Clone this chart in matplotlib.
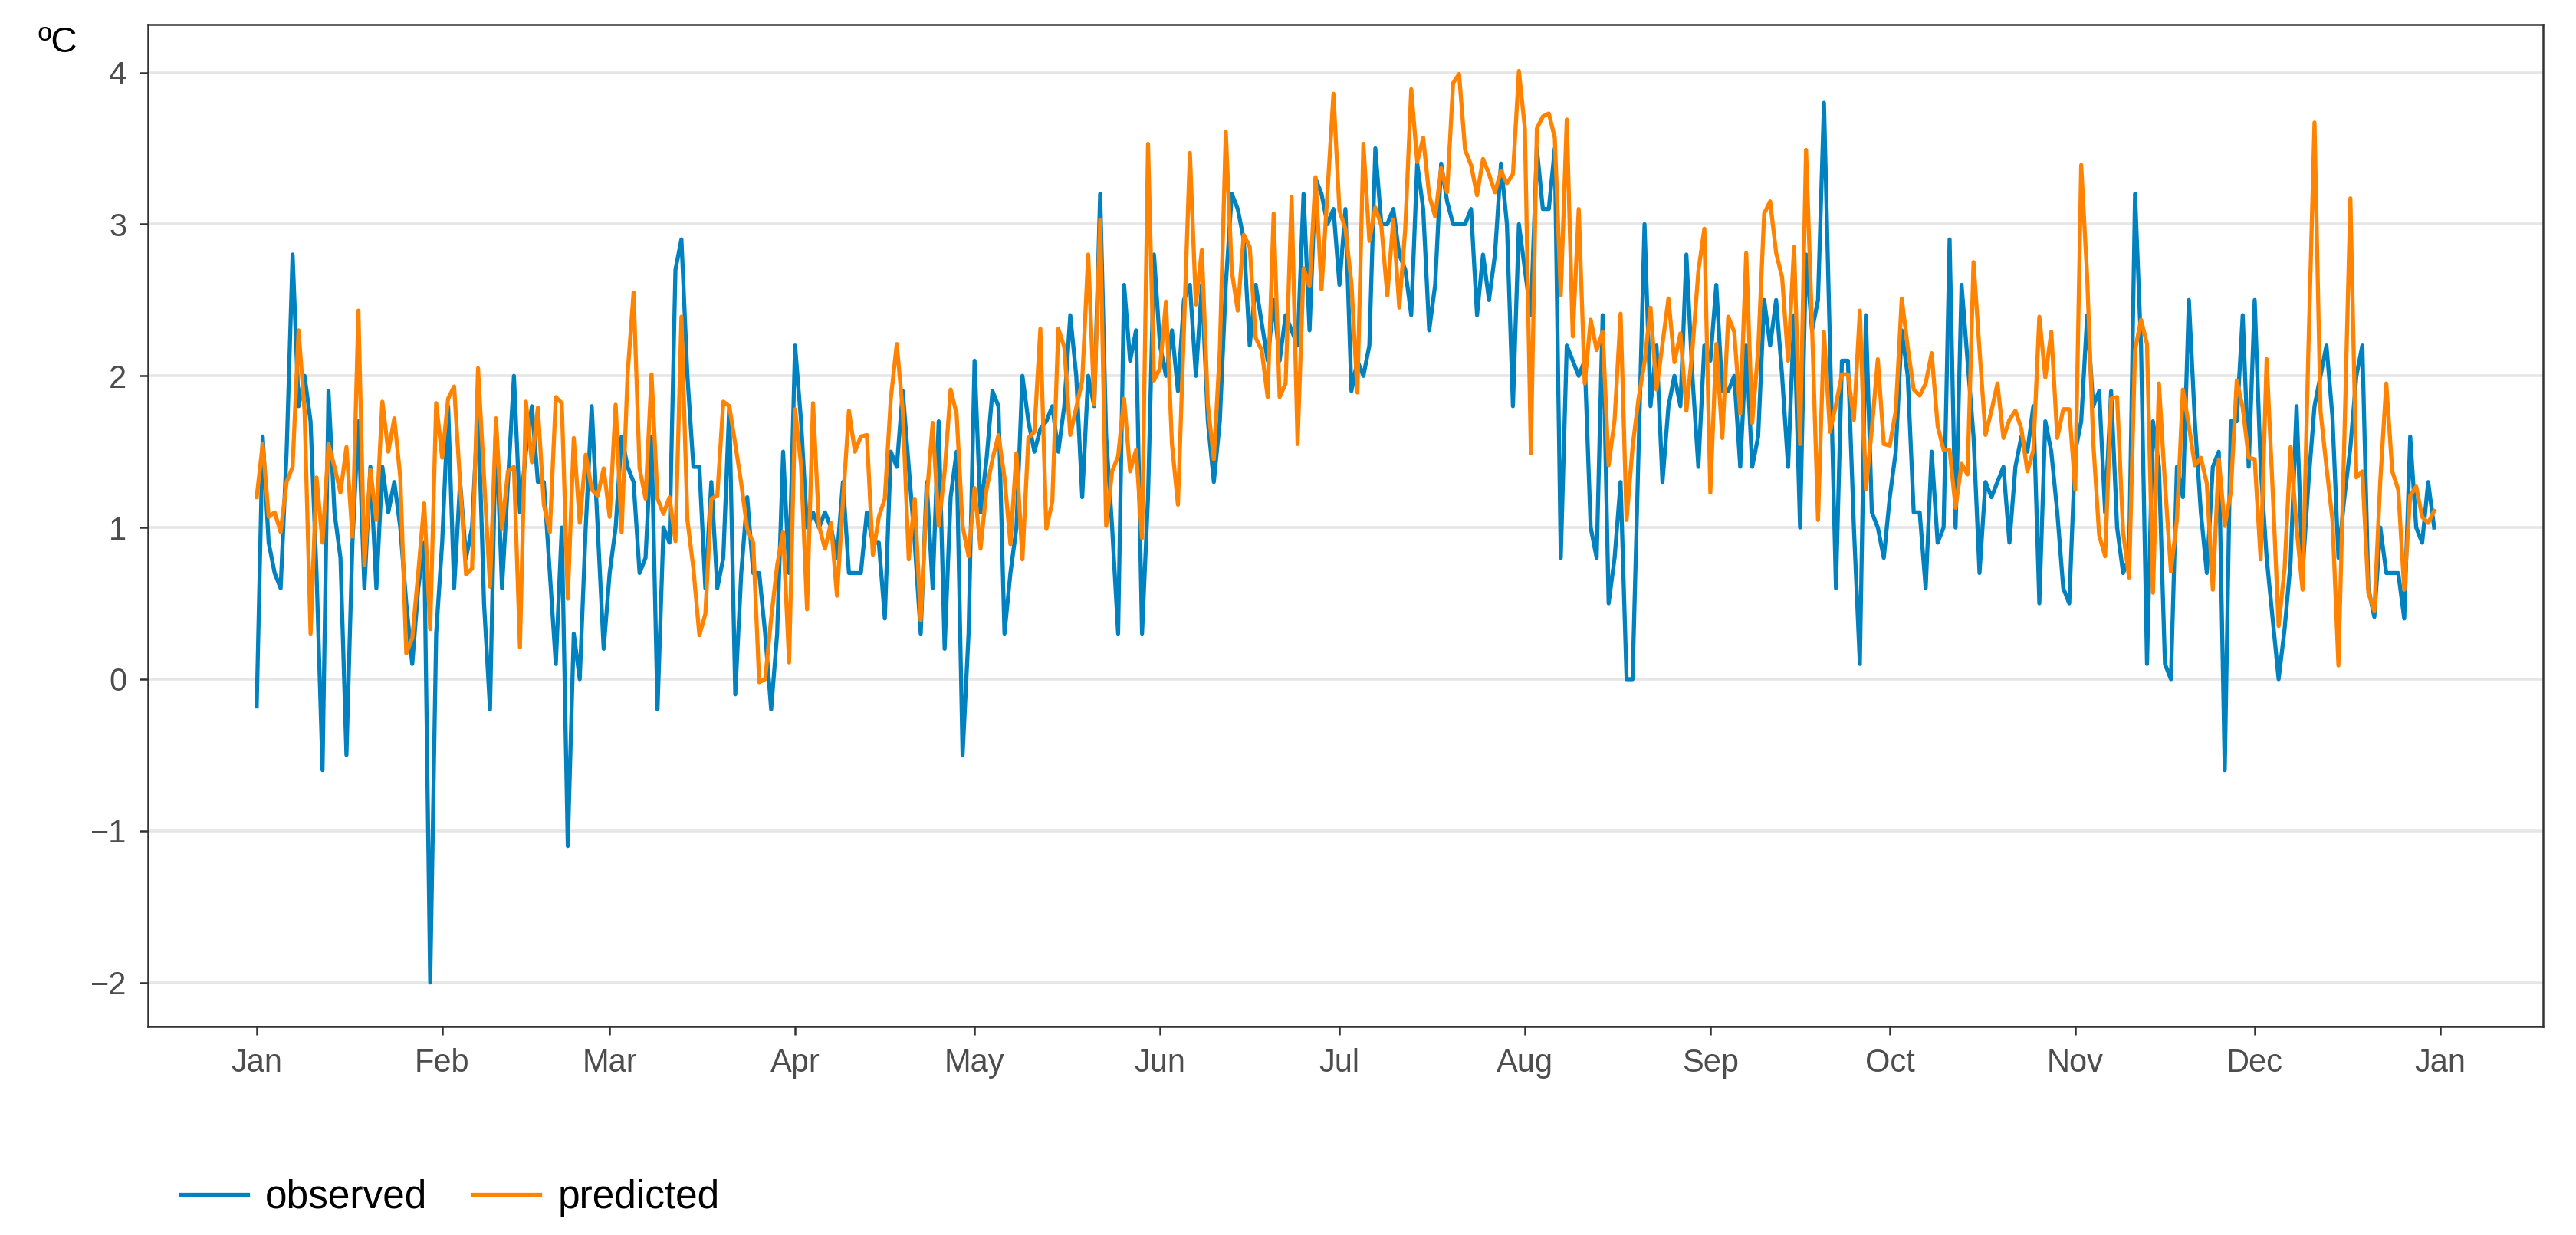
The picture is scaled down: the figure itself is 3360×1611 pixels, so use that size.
import numpy as np
import pandas as pd
import matplotlib
matplotlib.use('Agg')
import matplotlib.pyplot as plt
import matplotlib.dates as mdates

# daily values, Jan 1 .. Dec 31
observed = [
    -0.18, 1.6, 0.9, 0.7, 0.6, 1.5, 2.8, 1.8, 2.0, 1.7, 0.7, -0.6, 1.9, 1.1, 0.8, -0.5,
    0.9, 1.7, 0.6, 1.4, 0.6, 1.4, 1.1, 1.3, 1.0, 0.5, 0.1, 0.6, 0.9, -2.0, 0.3,
    0.9, 1.8, 0.6, 1.3, 0.8, 1.0, 1.8, 0.5, -0.2, 1.7, 0.6, 1.3, 2.0, 1.1, 1.5, 1.8,
    1.3, 1.3, 0.7, 0.1, 1.0, -1.1, 0.3, 0.0, 1.0, 1.8, 1.0, 0.2,
    0.7, 1.0, 1.6, 1.4, 1.3, 0.7, 0.8, 1.6, -0.2, 1.0, 0.9, 2.7, 2.9, 2.0, 1.4, 1.4,
    0.6, 1.3, 0.6, 0.8, 1.8, -0.1, 0.7, 1.2, 0.7, 0.7, 0.3, -0.2, 0.3, 1.5, 0.7,
    2.2, 1.7, 1.0, 1.1, 1.0, 1.1, 1.0, 0.8, 1.3, 0.7, 0.7, 0.7, 1.1, 0.9, 0.9, 0.4,
    1.5, 1.4, 1.9, 1.4, 0.9, 0.3, 1.3, 0.6, 1.7, 0.2, 1.2, 1.5, -0.5, 0.3,
    2.1, 1.1, 1.45, 1.9, 1.8, 0.3, 0.7, 1.0, 2.0, 1.7, 1.5, 1.65, 1.7, 1.8, 1.5, 1.8,
    2.4, 2.0, 1.2, 2.0, 1.8, 3.2, 1.6, 1.0, 0.3, 2.6, 2.1, 2.3, 0.3, 1.2, 2.8,
    2.2, 2.0, 2.3, 1.9, 2.5, 2.6, 2.0, 2.6, 1.7, 1.3, 1.7, 2.6, 3.2, 3.1, 2.9, 2.2,
    2.6, 2.35, 2.1, 2.5, 2.1, 2.4, 2.3, 2.2, 3.2, 2.3, 3.3, 3.2, 3.0, 3.1, 2.6,
    3.1, 1.9, 2.1, 2.0, 2.2, 3.5, 3.0, 3.0, 3.1, 2.8, 2.7, 2.4, 3.4, 3.1, 2.3, 2.6,
    3.4, 3.15, 3.0, 3.0, 3.0, 3.1, 2.4, 2.8, 2.5, 2.8, 3.4, 3.0, 1.8, 3.0,
    2.7, 2.4, 3.5, 3.1, 3.1, 3.5, 0.8, 2.2, 2.1, 2.0, 2.1, 1.0, 0.8, 2.4, 0.5, 0.8,
    1.3, 0.0, 0.0, 1.5, 3.0, 1.8, 2.2, 1.3, 1.8, 2.0, 1.8, 2.8, 2.0, 1.4, 2.2,
    2.1, 2.6, 1.9, 1.9, 2.0, 1.4, 2.2, 1.4, 1.6, 2.5, 2.2, 2.5, 2.0, 1.4, 2.4, 1.0,
    2.8, 2.3, 2.5, 3.8, 2.2, 0.6, 2.1, 2.1, 1.0, 0.1, 2.4, 1.1, 1.0, 0.8,
    1.2, 1.5, 2.3, 2.0, 1.1, 1.1, 0.6, 1.5, 0.9, 1.0, 2.9, 1.0, 2.6, 2.1, 1.6, 0.7,
    1.3, 1.2, 1.3, 1.4, 0.9, 1.4, 1.6, 1.5, 1.8, 0.5, 1.7, 1.5, 1.1, 0.6, 0.5,
    1.5, 1.7, 2.4, 1.8, 1.9, 1.1, 1.9, 1.0, 0.7, 0.8, 3.2, 2.2, 0.1, 1.7, 1.4, 0.1,
    0.0, 1.4, 1.2, 2.5, 1.7, 1.1, 0.7, 1.4, 1.5, -0.6, 1.7, 1.7, 2.4, 1.4, 2.5,
    1.4, 0.8, 0.4, 0.0, 0.33, 0.77, 1.8, 0.7, 1.3, 1.8, 2.0, 2.2, 1.73, 0.8, 1.2, 1.53,
    2.0, 2.2, 0.6, 0.41, 1.0, 0.7, 0.7, 0.7, 0.4, 1.6, 1.0, 0.9, 1.3, 1.0,
]

predicted = [
    1.2, 1.55, 1.07, 1.1, 0.97, 1.3, 1.4, 2.3, 1.77, 0.3, 1.33, 0.9, 1.55, 1.4, 1.23, 1.53,
    0.94, 2.43, 0.75, 1.38, 1.05, 1.83, 1.5, 1.72, 1.33, 0.17, 0.27, 0.7, 1.16, 0.33, 1.82,
    1.46, 1.85, 1.93, 1.29, 0.69, 0.73, 2.05, 1.33, 0.61, 1.72, 0.99, 1.37, 1.4, 0.21, 1.83, 1.43,
    1.79, 1.15, 0.97, 1.86, 1.82, 0.53, 1.59, 1.03, 1.48, 1.25, 1.21, 1.39,
    1.07, 1.81, 0.97, 2.01, 2.55, 1.39, 1.19, 2.01, 1.19, 1.09, 1.2, 0.91, 2.39, 1.05, 0.73, 0.29,
    0.43, 1.19, 1.21, 1.83, 1.8, 1.55, 1.29, 0.99, 0.9, -0.02, 0.0, 0.4, 0.75, 0.97, 0.11,
    1.78, 1.41, 0.46, 1.82, 1.01, 0.86, 1.03, 0.55, 1.17, 1.77, 1.5, 1.6, 1.61, 0.82, 1.07, 1.19,
    1.85, 2.21, 1.77, 0.79, 1.19, 0.39, 1.19, 1.69, 1.01, 1.37, 1.91, 1.75, 1.01, 0.81,
    1.26, 0.86, 1.25, 1.45, 1.61, 1.33, 0.89, 1.49, 0.79, 1.59, 1.63, 2.31, 0.99, 1.17, 2.31, 2.19,
    1.61, 1.79, 1.97, 2.8, 1.81, 3.03, 1.01, 1.37, 1.47, 1.85, 1.37, 1.51, 0.93, 3.53, 1.97,
    2.05, 2.49, 1.55, 1.15, 2.3, 3.47, 2.47, 2.83, 1.81, 1.45, 2.17, 3.61, 2.69, 2.43, 2.93, 2.85,
    2.25, 2.17, 1.86, 3.07, 1.86, 1.95, 3.18, 1.55, 2.71, 2.59, 3.31, 2.57, 3.21, 3.86, 3.09,
    2.97, 2.61, 1.89, 3.53, 2.89, 3.11, 2.99, 2.53, 3.03, 2.45, 2.97, 3.89, 3.41, 3.57, 3.19, 3.05,
    3.37, 3.21, 3.93, 3.99, 3.49, 3.39, 3.19, 3.43, 3.33, 3.21, 3.35, 3.27, 3.33, 4.01,
    3.63, 1.49, 3.63, 3.71, 3.73, 3.57, 2.53, 3.69, 2.26, 3.1, 1.95, 2.37, 2.17, 2.29, 1.41, 1.71,
    2.41, 1.05, 1.53, 1.85, 2.09, 2.45, 1.91, 2.21, 2.51, 2.09, 2.28, 1.77, 2.17, 2.69, 2.97,
    1.23, 2.21, 1.59, 2.39, 2.29, 1.75, 2.81, 1.69, 2.17, 3.07, 3.15, 2.81, 2.65, 2.1, 2.85, 1.55,
    3.49, 2.33, 1.05, 2.29, 1.63, 1.81, 2.01, 2.01, 1.71, 2.43, 1.25, 1.65, 2.11, 1.55,
    1.54, 1.77, 2.51, 2.19, 1.91, 1.87, 1.95, 2.15, 1.67, 1.51, 1.51, 1.13, 1.42, 1.35, 2.75, 2.17,
    1.61, 1.77, 1.95, 1.59, 1.71, 1.77, 1.65, 1.37, 1.51, 2.39, 1.99, 2.29, 1.59, 1.78, 1.78,
    1.25, 3.39, 2.65, 1.57, 0.95, 0.81, 1.85, 1.86, 0.97, 0.67, 2.17, 2.37, 2.21, 0.57, 1.95, 1.29,
    0.71, 1.05, 1.91, 1.67, 1.41, 1.46, 1.29, 0.59, 1.45, 1.01, 1.23, 1.97, 1.79, 1.46, 1.45,
    0.79, 2.11, 1.25, 0.35, 0.73, 1.53, 1.0, 0.59, 2.2, 3.67, 1.77, 1.4, 1.05, 0.09, 1.6, 3.17,
    1.33, 1.37, 0.57, 0.45, 1.31, 1.95, 1.37, 1.25, 0.59, 1.21, 1.27, 1.07, 1.03, 1.11,
]

dates = pd.date_range('2023-01-01', periods=len(observed), freq='D')

BLUE = '#0081C0'
ORANGE = '#FF8200'
GREY_TXT = '#4D4D4D'

plt.rcParams['font.family'] = ['Liberation Sans', 'DejaVu Sans']

fig = plt.figure(figsize=(16.8, 8.055), dpi=200)
ax = fig.add_axes([0.0574, 0.1688, 0.9298, 0.8112])

ax.plot(dates, observed, color=BLUE, lw=1.9, label='observed', zorder=3)
ax.plot(dates, predicted, color=ORANGE, lw=1.9, label='predicted', zorder=4)

# ggplot-like expansion of the axes
pad = pd.Timedelta(days=18.2)
ax.set_xlim(dates[0] - pad, dates[-1] + pad)
ax.set_ylim(-2.29, 4.315)

ax.xaxis.set_major_locator(mdates.MonthLocator())
ax.xaxis.set_major_formatter(mdates.DateFormatter('%b'))
ax.set_yticks([-2, -1, 0, 1, 2, 3, 4])
ax.set_yticklabels(['\u22122', '\u22121', '0', '1', '2', '3', '4'])

ax.grid(axis='y', color='#E6E6E6', lw=1.3, zorder=0)
ax.grid(axis='x', visible=False)
ax.set_axisbelow(True)

for s in ax.spines.values():
    s.set_color('#333333')
    s.set_linewidth(0.9)

ax.tick_params(axis='both', colors='#333333', labelcolor=GREY_TXT,
               labelsize=15, length=4, width=0.9)
ax.tick_params(axis='x', pad=6)
ax.tick_params(axis='y', pad=6)

fig.text(75 / 3360, 1 - 56 / 1611, '\u00baC', ha='center', va='center',
         fontsize=17, color='black')

fig.legend(loc='center left', bbox_to_anchor=(0.0702, 0.0304), ncol=2,
           frameon=False, fontsize=18.5, handlelength=1.7, handletextpad=0.45,
           columnspacing=1.15, borderpad=0, borderaxespad=0)

fig.savefig('out.png', dpi=200, facecolor='white')
